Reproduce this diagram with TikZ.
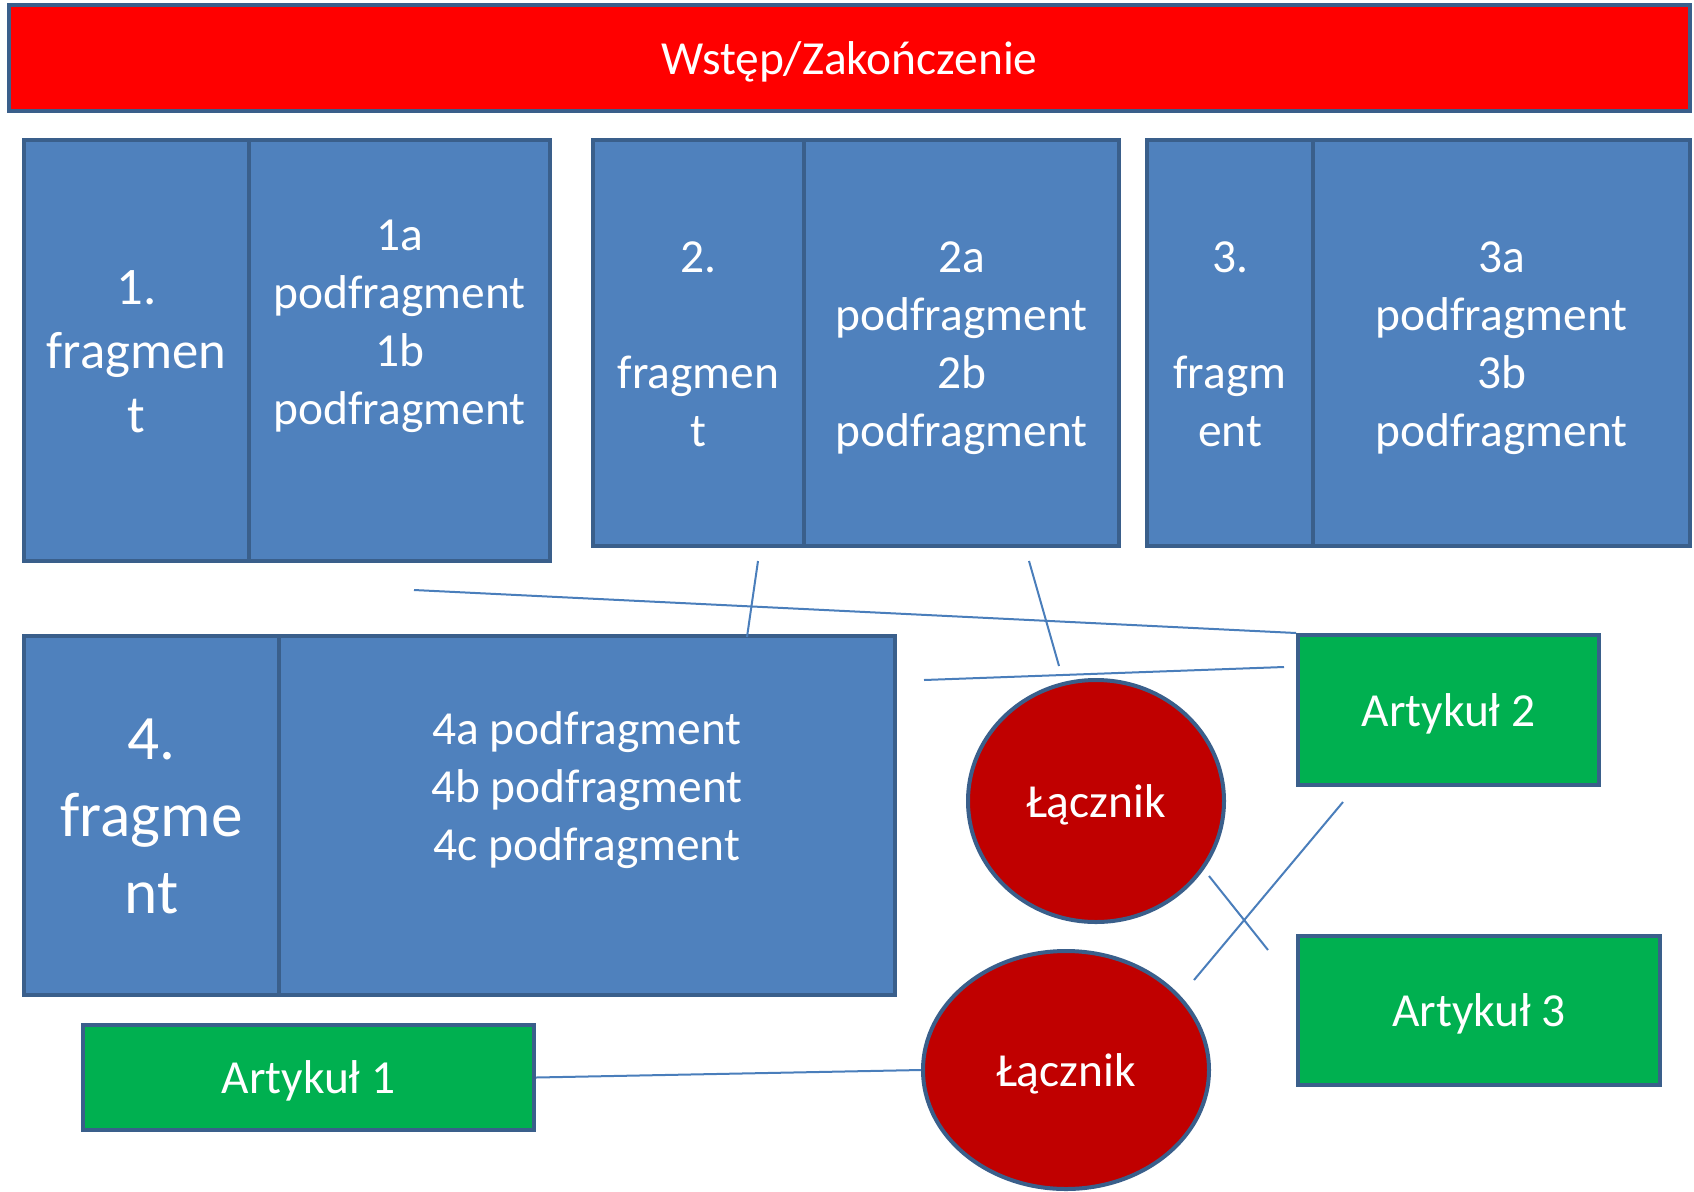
\documentclass[tikz,border=0pt]{standalone}
\usepackage{fontspec}
\setmainfont{Carlito}
\usetikzlibrary{shapes.geometric}
\newcommand{\pxs}{0.02cm}
\newcommand{\gorna}{\rule{0pt}{0.952em}}
\definecolor{blok}{HTML}{4F81BD}
\definecolor{ramka}{HTML}{3A5F8B}
\definecolor{pasek}{HTML}{FF0000}
\definecolor{artyk}{HTML}{00B050}
\definecolor{lacz}{HTML}{C00000}
\definecolor{linia}{HTML}{4A7EBB}
\begin{document}
\begin{tikzpicture}[x=0.02cm, y=-0.02cm,
    wiersze/.style={align=center, execute at begin node={\rule{0pt}{0.952em}},
        execute at end node={\rule[-0.269em]{0pt}{0pt}}},
    pole/.style 2 args={draw=ramka, line width=4*\pxs, text=white, wiersze, inner sep=0pt,
        minimum width=#1*\pxs, minimum height=#2*\pxs, font=\fontsize{27}{33}\selectfont},
    lacznik/.style 2 args={ellipse, draw=ramka, fill=lacz, line width=4*\pxs, text=white, wiersze, inner sep=0pt,
        minimum width=#1*\pxs, minimum height=#2*\pxs, font=\fontsize{27}{33}\selectfont},
    kreska/.style={draw=linia, line width=2*\pxs}]
    \useasboundingbox (0, 0) rectangle (1694, 1191);
    \node [pole={1681}{106}, fill=pasek] (wstep) at (849.5, 58) {Wstęp/Zakończenie};
    \node [pole={225}{421}, fill=blok, font=\fontsize{30}{36.5}\selectfont] (frag1) at (136.5, 350.5) {\gorna 1.\\fragmen\\t};
    \node [pole={301}{421}, fill=blok] (pod1) at (399.5, 350.5) {\gorna 1a\\podfragment\\1b\\podfragment\\\mbox{}};
    \node [pole={211}{406}, fill=blok] (frag2) at (698.5, 343) {\gorna 2.\\\mbox{}\\fragmen\\t};
    \node [pole={315}{406}, fill=blok] (pod2) at (961.5, 343) {\gorna 2a\\podfragment\\2b\\podfragment};
    \node [pole={166}{406}, fill=blok] (frag3) at (1230, 343) {\gorna 3.\\\mbox{}\\fragm\\ent};
    \node [pole={377}{406}, fill=blok] (pod3) at (1501.5, 343) {\gorna 3a\\podfragment\\3b\\podfragment};
    \node [pole={255}{359}, fill=blok, font=\fontsize{36}{44}\selectfont] (frag4) at (151.5, 815) {\gorna 4.\\fragme\\nt};
    \node [pole={616}{359}, fill=blok] (pod4) at (587, 815) {\gorna 4a podfragment\\4b podfragment\\4c podfragment\\\mbox{}};
    \node [pole={451}{105}, fill=artyk] (art1) at (308.5, 1077.5) {Artykuł 1};
    \node [pole={301}{150}, fill=artyk] (art2) at (1448.5, 710) {Artykuł 2};
    \node [pole={362}{149}, fill=artyk] (art3) at (1479, 1010.5) {Artykuł 3};
    \node [lacznik={256}{242}] (lacz1) at (1096, 801) {Łącznik};
    \node [lacznik={286}{238}] (lacz2) at (1066, 1070) {Łącznik};
    \coordinate (k1) at (414, 590);
    \coordinate (k2a) at (758, 561);
    \coordinate (k2b) at (747, 637);
    \coordinate (k3a) at (1029, 561);
    \coordinate (k3b) at (1059, 666);
    \coordinate (k4a) at (924, 680);
    \coordinate (k4b) at (1284, 667);
    \coordinate (k5a) at (1343, 802);
    \coordinate (k5b) at (1194, 980);
    \coordinate (k6a) at (1209, 876);
    \coordinate (k6b) at (1268, 950);
    \draw [kreska] (k1) -- (art2.north west);
    \draw [kreska] (k2a) -- (k2b);
    \draw [kreska] (k3a) -- (k3b);
    \draw [kreska] (k4a) -- (k4b);
    \draw [kreska] (k5a) -- (k5b);
    \draw [kreska] (k6a) -- (k6b);
    \draw [kreska] (art1.east) -- (lacz2.west);
\end{tikzpicture}
\end{document}
